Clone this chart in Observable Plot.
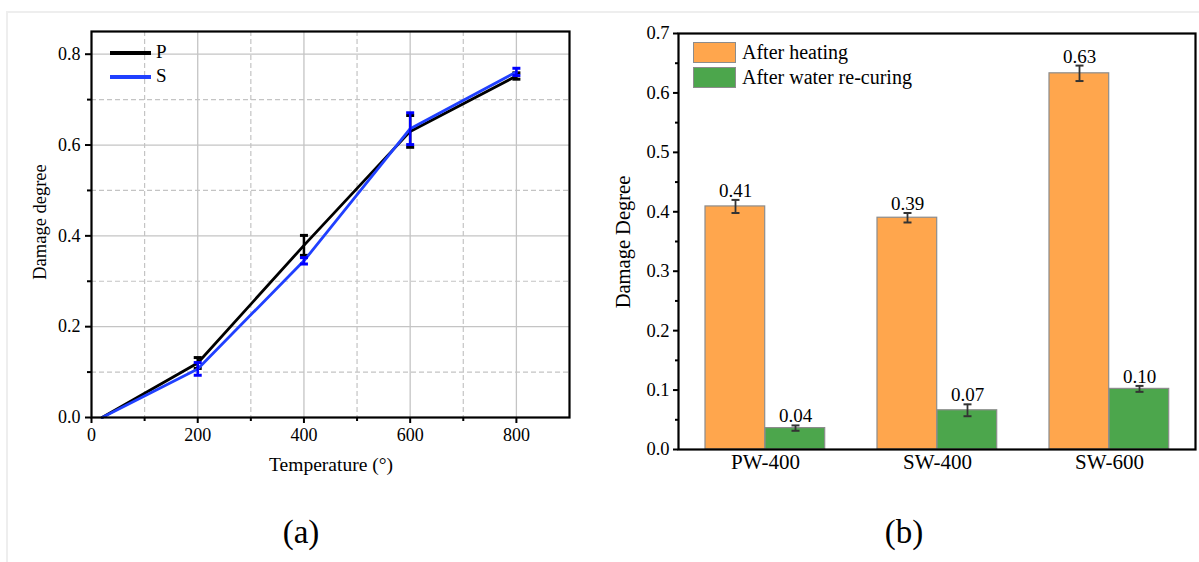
<!DOCTYPE html>
<html><head><meta charset="utf-8">
<script src="https://cdn.jsdelivr.net/npm/d3@7"></script>
<script src="https://cdn.jsdelivr.net/npm/@observablehq/plot@0.6"></script>
<style>
body{margin:0;background:#fff;font-family:"Liberation Serif","Times New Roman",serif;}
#wrap{position:relative;width:1199px;height:562px;overflow:hidden;background:#fff;}
#border{position:absolute;left:6px;top:11px;width:1300px;height:700px;border:2px solid #eeeeee;}
.abs{position:absolute;}
svg, svg text{font-family:"Liberation Serif","Times New Roman",serif !important;}
.lg{position:absolute;font-family:"Liberation Serif","Times New Roman",serif;color:#000;white-space:nowrap;}
.cap{position:absolute;font-family:"Liberation Serif","Times New Roman",serif;font-size:33px;transform:translate(-50%,-50%);}
.ylab{position:absolute;font-family:"Liberation Serif","Times New Roman",serif;white-space:nowrap;transform:translate(-50%,-50%) rotate(-90deg);}
.xlab{position:absolute;font-family:"Liberation Serif","Times New Roman",serif;white-space:nowrap;transform:translate(-50%,-50%);}
</style></head><body>
<div id="wrap">
  <div id="border"></div>
  <div id="left" class="abs" style="left:0;top:0"></div>
  <div id="right" class="abs" style="left:590px;top:0"></div>
  <div class="ylab" style="left:40px;top:222px;font-size:18.5px">Damage degree</div>
  <div class="xlab" style="left:331px;top:465px;font-size:19.5px">Temperature (°)</div>
  <div class="ylab" style="left:623px;top:242px;font-size:20.5px">Damage Degree</div>
  <!-- legend (a) -->
  <div class="abs" style="left:110px;top:51px;width:41px;height:4px;background:#000"></div>
  <div class="lg" style="left:156px;top:41px;font-size:19px;line-height:22px">P</div>
  <div class="abs" style="left:110px;top:75px;width:41px;height:4px;background:#2040ff"></div>
  <div class="lg" style="left:156px;top:65px;font-size:19px;line-height:22px">S</div>
  <!-- legend (b) -->
  <div class="abs" style="left:693px;top:42px;width:41px;height:19px;background:#FFA64D;border:1.5px solid #8c8c8c"></div>
  <div class="lg" style="left:742px;top:40px;font-size:20px;line-height:24px">After heating</div>
  <div class="abs" style="left:693px;top:67px;width:41px;height:19px;background:#4ca64c;border:1.5px solid #8c8c8c"></div>
  <div class="lg" style="left:742px;top:65px;font-size:20px;line-height:24px">After water re-curing</div>
  <div class="cap" style="left:301px;top:532px">(a)</div>
  <div class="cap" style="left:904px;top:532px">(b)</div>
</div>
<script>
// ---- Data (a)
const temps = [20, 200, 400, 600, 800];
const pMean = [0, 0.12, 0.379, 0.63, 0.752];
const pErr  = [0, 0.012, 0.022, 0.035, 0.007];
const sMean = [0, 0.107, 0.345, 0.636, 0.761];
const sErr  = [0, 0.014, 0.007, 0.035, 0.008];
const xMajor = [0, 200, 400, 600, 800];
const xMinor = [100, 300, 500, 700];
const yMajorA = [0, 0.2, 0.4, 0.6, 0.8];
const yMinorA = [0.1, 0.3, 0.5, 0.7];

// ---- Data (b)
const groups = ["PW-400", "SW-400", "SW-600"];
const heating = [0.409, 0.390, 0.633];
const heatingErr = [0.011, 0.008, 0.013];
const recuring = [0.036, 0.066, 0.102];
const recuringErr = [0.0045, 0.01, 0.005];
const heatingLabels = ["0.41", "0.39", "0.63"];
const recuringLabels = ["0.04", "0.07", "0.10"];
const yMajorB = [0, 0.1, 0.2, 0.3, 0.4, 0.5, 0.6, 0.7];
const yMinorB = [0.05, 0.15, 0.25, 0.35, 0.45, 0.55, 0.65];

const capSymbol = {draw(ctx, size){ const r = Math.sqrt(size/Math.PI); ctx.moveTo(-r,0); ctx.lineTo(r,0); }};
const font = "Liberation Serif, Times New Roman, serif";

const pData = temps.map((t,i)=>({t, v:pMean[i], e:pErr[i], lo:pMean[i]-pErr[i], hi:pMean[i]+pErr[i]}));
const sData = temps.map((t,i)=>({t, v:sMean[i], e:sErr[i], lo:sMean[i]-sErr[i], hi:sMean[i]+sErr[i]}));
const pE = pData.filter(d=>d.e>0), sE = sData.filter(d=>d.e>0);

const left = Plot.plot({
  width: 590, height: 470,
  marginLeft: 91, marginRight: 21, marginTop: 31, marginBottom: 53,
  style: {fontFamily: font, background: "transparent", color: "#000"},
  x: {domain: [0, 900]},
  y: {domain: [0, 0.85]},
  marks: [
    Plot.gridX(xMajor.slice(1), {stroke: "#c4c4c4", strokeOpacity: 1, strokeWidth: 1.3}),
    Plot.gridX(xMinor, {stroke: "#c4c4c4", strokeOpacity: 1, strokeWidth: 1.2, strokeDasharray: "5,3"}),
    Plot.gridY(yMajorA.slice(1), {stroke: "#c4c4c4", strokeOpacity: 1, strokeWidth: 1.3}),
    Plot.gridY(yMinorA, {stroke: "#c4c4c4", strokeOpacity: 1, strokeWidth: 1.2, strokeDasharray: "5,3"}),
    Plot.line(pData, {x: "t", y: "v", stroke: "#000", strokeWidth: 2.8}),
    Plot.ruleX(pE, {x: "t", y1: "lo", y2: "hi", stroke: "#000", strokeWidth: 2.5}),
    Plot.dot(pE, {x: "t", y: "lo", symbol: capSymbol, r: 4, stroke: "#000", strokeWidth: 3}),
    Plot.dot(pE, {x: "t", y: "hi", symbol: capSymbol, r: 4, stroke: "#000", strokeWidth: 3}),
    Plot.line(sData, {x: "t", y: "v", stroke: "#2040ff", strokeWidth: 2.8}),
    Plot.ruleX(sE, {x: "t", y1: "lo", y2: "hi", stroke: "#0000ff", strokeWidth: 2.5}),
    Plot.dot(sE, {x: "t", y: "lo", symbol: capSymbol, r: 4, stroke: "#0000ff", strokeWidth: 3}),
    Plot.dot(sE, {x: "t", y: "hi", symbol: capSymbol, r: 4, stroke: "#0000ff", strokeWidth: 3}),
    Plot.axisX({ticks: xMajor, tickSize: 6, tickPadding: 5, strokeWidth: 2, fontSize: 18, label: null}),
    Plot.axisX({ticks: xMinor, tickSize: 4, strokeWidth: 2, tickFormat: () => "", label: null}),
    Plot.axisY({ticks: yMajorA, tickSize: 6, tickPadding: 5, strokeWidth: 2, fontSize: 18,
      tickFormat: d3.format(".1f"), label: null}),
    Plot.axisY({ticks: yMinorA, tickSize: 4, strokeWidth: 2, tickFormat: () => "", label: null}),
    Plot.frame({stroke: "#000", strokeWidth: 2.2})
  ]
});
document.getElementById("left").append(left);

const hData = groups.map((g,i)=>({g, v:heating[i], lo:heating[i]-heatingErr[i], hi:heating[i]+heatingErr[i], label:heatingLabels[i]}));
const rData = groups.map((g,i)=>({g, v:recuring[i], lo:recuring[i]-recuringErr[i], hi:recuring[i]+recuringErr[i], label:recuringLabels[i]}));
const errColor = "#333";

const right = Plot.plot({
  width: 609, height: 490,
  marginLeft: 88, marginRight: 4, marginTop: 33, marginBottom: 41,
  style: {fontFamily: font, background: "transparent", color: "#000"},
  x: {type: "band", domain: groups, padding: 0},
  y: {domain: [0, 0.7]},
  marks: [
    Plot.barY(hData, {x: "g", y: "v", fill: "#FFA64D", stroke: "#8c8c8c", strokeWidth: 1.2, insetLeft: 26, insetRight: 86.3}),
    Plot.barY(rData, {x: "g", y: "v", fill: "#4ca64c", stroke: "#8c8c8c", strokeWidth: 1.2, insetLeft: 86, insetRight: 26.3}),
    Plot.ruleX(hData, {x: "g", y1: "lo", y2: "hi", dx: -30, stroke: errColor, strokeWidth: 1.8}),
    Plot.dot(hData, {x: "g", y: "lo", dx: -30, symbol: capSymbol, r: 4, stroke: errColor, strokeWidth: 2}),
    Plot.dot(hData, {x: "g", y: "hi", dx: -30, symbol: capSymbol, r: 4, stroke: errColor, strokeWidth: 2}),
    Plot.ruleX(rData, {x: "g", y1: "lo", y2: "hi", dx: 30, stroke: errColor, strokeWidth: 1.8}),
    Plot.dot(rData, {x: "g", y: "lo", dx: 30, symbol: capSymbol, r: 4, stroke: errColor, strokeWidth: 2}),
    Plot.dot(rData, {x: "g", y: "hi", dx: 30, symbol: capSymbol, r: 4, stroke: errColor, strokeWidth: 2}),
    Plot.text(hData, {x: "g", y: "hi", text: "label", dx: -30, dy: -3, lineAnchor: "bottom", fontSize: 19, fill: "#000"}),
    Plot.text(rData, {x: "g", y: "hi", text: "label", dx: 30, dy: -3, lineAnchor: "bottom", fontSize: 19, fill: "#000"}),
    Plot.axisX({tickSize: 0, tickPadding: 5, fontSize: 21, label: null}),
    Plot.axisY({ticks: yMajorB, tickSize: 5, tickPadding: 4, strokeWidth: 2, fontSize: 18.5,
      tickFormat: d3.format(".1f"), label: null}),
    Plot.axisY({ticks: yMinorB, tickSize: 3, strokeWidth: 2, tickFormat: () => "", label: null}),
    Plot.frame({stroke: "#000", strokeWidth: 2.2})
  ]
});
document.getElementById("right").append(right);
</script>
</body></html>
